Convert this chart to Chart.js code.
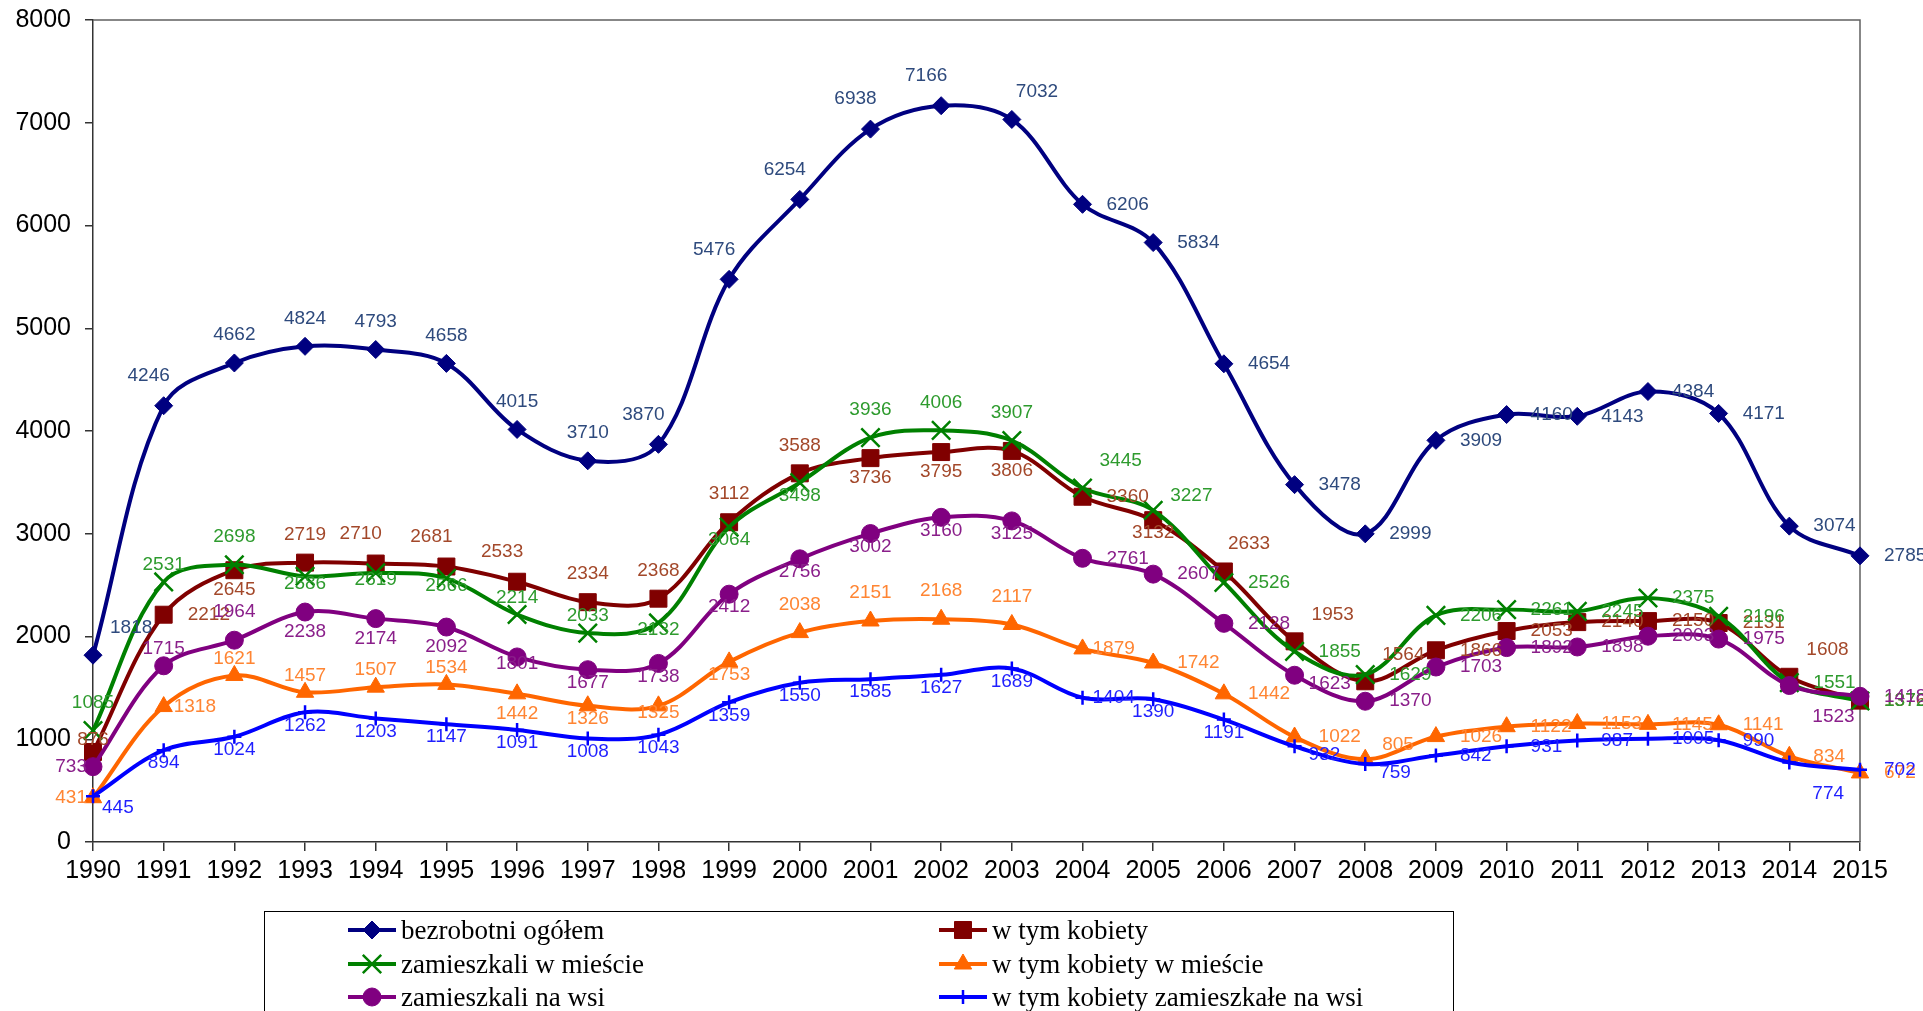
<!DOCTYPE html>
<html>
<head>
<meta charset="utf-8">
<script src="https://cdn.jsdelivr.net/npm/chart.js@4.4.1/dist/chart.umd.min.js"></script>
<style>
html,body{margin:0;padding:0;background:#fff;overflow:hidden;width:1923px;height:1011px;}
#wrap{position:relative;width:1923px;height:1011px;}
#c{position:absolute;left:0;top:0;}
#legend{position:absolute;left:264px;top:911px;width:1190px;height:140px;border:1px solid #000;box-sizing:border-box;font-family:"Liberation Serif","Times New Roman",serif;font-size:27px;color:#000;}
.item{position:absolute;height:34px;display:flex;align-items:center;white-space:nowrap;}
.item canvas{display:block;margin-right:5px;}
</style>
</head>
<body>
<div id="wrap"><canvas id="c" width="1923" height="1011"></canvas><div id="legend"></div></div>
<script>
// ---- data ----
const years = ['1990','1991','1992','1993','1994','1995','1996','1997','1998','1999','2000','2001','2002','2003','2004','2005','2006','2007','2008','2009','2010','2011','2012','2013','2014','2015'];
const yTicks = [0,1000,2000,3000,4000,5000,6000,7000,8000];
const seriesNames = ['bezrobotni ogółem','w tym kobiety','zamieszkali w mieście','w tym kobiety w mieście','zamieszkali na wsi','w tym kobiety zamieszkałe na wsi'];
const bezrobotniOgolem = [1818,4246,4662,4824,4793,4658,4015,3710,3870,5476,6254,6938,7166,7032,6206,5834,4654,3478,2999,3909,4160,4143,4384,4171,3074,2785];
const wTymKobiety = [876,2212,2645,2719,2710,2681,2533,2334,2368,3112,3588,3736,3795,3806,3360,3132,2633,1953,1564,1866,2053,2140,2150,2131,1608,1376];
const zamieszkaliWMiescie = [1085,2531,2698,2586,2619,2566,2214,2033,2132,3064,3498,3936,4006,3907,3445,3227,2526,1855,1629,2206,2261,2245,2375,2196,1551,1372];
const kobietyWMiescie = [431,1318,1621,1457,1507,1534,1442,1326,1325,1753,2038,2151,2168,2117,1879,1742,1442,1022,805,1026,1122,1153,1145,1141,834,672];
const zamieszkaliNaWsi = [733,1715,1964,2238,2174,2092,1801,1677,1738,2412,2756,3002,3160,3125,2761,2607,2128,1623,1370,1703,1892,1898,2003,1975,1523,1418];
const kobietyNaWsi = [445,894,1024,1262,1203,1147,1091,1008,1043,1359,1550,1585,1627,1689,1404,1390,1191,932,759,842,931,987,1005,990,774,702];

// ---- styles ----
const lineColors = ['#000080','#800000','#008000','#FF6600','#800080','#0000FF'];
const labelColors = ['#2E4A7D','#A3482A','#2E9B2E','#FF8533','#8A1F8A','#1F1FFF'];
const pointStyles = ['rectRot','rect','crossRot','triangle','circle','cross'];
const pointRadii = [9,12,13,10,9,7];
const pointBorders = [1,1,2.5,1,1,2.5];
// label placement codes per point
const labelPlace = [
  'R tl t t t t t t tl tl tl tl tl tr r r r r r r r r r r r r',
  'u r b t tl tl tl t t t t b b b r B tr R R r r r r r R r',
  't T t c c c T T c B B t t t R rt r r r r r r r r r r',
  'l rn T T T T b B c B t t t t rn r r r rt r r r r r r r',
  'l T t b b b c B B B B B B B r r r rd r r r r r r rb r',
  'br B B B B B B B B B B B B B rn B B rd rd r r r r r rb r'
].map(s => s.split(' '));
const OFF = {
  t:['center',0,-28], tl:['center',-15,-30], T:['center',0,-17], u:['center',0,-12],
  b:['center',0,20], B:['center',0,13], c:['center',0,7],
  r:['left',24,0], rn:['left',10,0], R:['left',17,-27], rt:['left',17,-15],
  rd:['left',14,9], rb:['left',23,31], br:['left',9,11], tr:['left',4,-28],
  l:['right',-6,0]
};

const allSeries = [bezrobotniOgolem,wTymKobiety,zamieszkaliWMiescie,kobietyWMiescie,zamieszkaliNaWsi,kobietyNaWsi];

const datasets = allSeries.map((d,i)=>({
  label: seriesNames[i],
  data: d,
  borderColor: lineColors[i],
  backgroundColor: lineColors[i],
  borderWidth: 4,
  tension: 0.35,
  pointStyle: pointStyles[i],
  pointRadius: pointRadii[i],
  pointHoverRadius: pointRadii[i],
  pointBorderWidth: pointBorders[i],
  pointBackgroundColor: lineColors[i],
  pointBorderColor: lineColors[i],
  fill: false,
  order: 6 - i
}));

const frame = {
  id:'frame',
  beforeDatasetsDraw(chart){
    const a = chart.chartArea, ctx = chart.ctx;
    ctx.save();
    ctx.strokeStyle = '#606060';
    ctx.lineWidth = 1.5;
    ctx.beginPath();
    ctx.moveTo(a.left, a.top); ctx.lineTo(a.right, a.top); ctx.lineTo(a.right, a.bottom);
    ctx.stroke();
    ctx.restore();
  }
};

const valueLabels = {
  id:'valueLabels',
  afterDatasetsDraw(chart){
    const ctx = chart.ctx;
    ctx.save();
    ctx.font = '19px "Liberation Sans", Arial, sans-serif';
    ctx.textBaseline = 'middle';
    chart.data.datasets.forEach((ds,i)=>{
      const meta = chart.getDatasetMeta(i);
      ctx.fillStyle = labelColors[i];
      meta.data.forEach((pt,j)=>{
        const o = OFF[labelPlace[i][j]] || OFF.r;
        ctx.textAlign = o[0];
        ctx.fillText(String(ds.data[j]), pt.x + o[1], pt.y + o[2]);
      });
    });
    ctx.restore();
  }
};

new Chart(document.getElementById('c'), {
  type:'line',
  data:{labels: years, datasets},
  options:{
    responsive:false,
    animation:false,
    devicePixelRatio:1,
    layout:{padding:{top:20,right:63,bottom:109,left:0}},
    plugins:{legend:{display:false},tooltip:{enabled:false}},
    scales:{
      x:{
        type:'category',
        offset:false,
        grid:{drawOnChartArea:false,drawTicks:true,tickLength:9,color:'#333',lineWidth:1.5},
        border:{display:true,color:'#333',width:1.5},
        ticks:{color:'#000',font:{family:'"Liberation Sans", Arial, sans-serif',size:25},maxRotation:0,autoSkip:false,padding:5},
        afterFit(s){ s.height = 60; s.paddingLeft = 0; s.paddingRight = 0; }
      },
      y:{
        min:0,max:8000,
        afterBuildTicks(s){ s.ticks = yTicks.map(v=>({value:v})); },
        grid:{drawOnChartArea:false,drawTicks:true,tickLength:8,color:'#333',lineWidth:1.5},
        border:{display:true,color:'#333',width:1.5},
        ticks:{color:'#000',font:{family:'"Liberation Sans", Arial, sans-serif',size:25},padding:14,callback:(v)=>String(v)},
        afterFit(s){ s.width = 93; s.paddingTop = 0; s.paddingBottom = 0; }
      }
    }
  },
  plugins:[frame,valueLabels]
});

// ---- legend ----
const legend = document.getElementById('legend');
const cols = [83, 674];
const rowsTop = [1, 35, 68];
datasets.forEach((ds,i)=>{
  const item = document.createElement('div');
  item.className = 'item';
  item.style.left = cols[i%2] + 'px';
  item.style.top = rowsTop[Math.floor(i/2)] + 'px';
  const cv = document.createElement('canvas');
  cv.width = 48; cv.height = 34;
  const g = cv.getContext('2d');
  g.strokeStyle = lineColors[i]; g.fillStyle = lineColors[i];
  g.lineWidth = 4;
  g.beginPath(); g.moveTo(0,17); g.lineTo(48,17); g.stroke();
  g.lineWidth = pointBorders[i];
  if (Chart.helpers && Chart.helpers.drawPoint) {
    Chart.helpers.drawPoint(g, {pointStyle: pointStyles[i], radius: pointRadii[i], borderWidth: pointBorders[i], rotation: 0}, 24, 17);
  }
  const sp = document.createElement('span');
  sp.textContent = seriesNames[i];
  item.appendChild(cv); item.appendChild(sp);
  legend.appendChild(item);
});
</script>
</body>
</html>
